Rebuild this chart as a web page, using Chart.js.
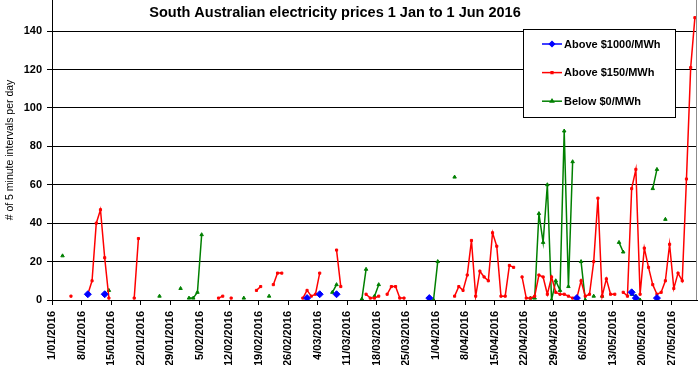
<!DOCTYPE html>
<html>
<head>
<meta charset="utf-8">
<script src="https://cdn.jsdelivr.net/npm/chart.js@4.4.0/dist/chart.umd.min.js"></script>
<style>
html,body{margin:0;padding:0;background:#fff;}
canvas{display:block;}
</style>
</head>
<body>
<canvas id="c" width="698" height="365" style="width:698px;height:365px"></canvas>
<script>
// Daily values, index 0 = 1 Jan 2016 ... index 152 = 1 Jun 2016 (null = no value)
const N = null;
const tickLabels = ['1/01/2016','8/01/2016','15/01/2016','22/01/2016','29/01/2016','5/02/2016','12/02/2016','19/02/2016','26/02/2016','4/03/2016','11/03/2016','18/03/2016','25/03/2016','1/04/2016','8/04/2016','15/04/2016','22/04/2016','29/04/2016','6/05/2016','13/05/2016','20/05/2016','27/05/2016'];

const above1000 = [
 N,N,N,N,N,N,N,N,3,N,  N,N,3,N,N,N,N,N,N,N,
 N,N,N,N,N,N,N,N,N,N,  N,N,N,N,N,N,N,N,N,N,
 N,N,N,N,N,N,N,N,N,N,  N,N,N,N,N,N,N,N,N,N,
 1,N,N,3,N,N,N,3,N,N,  N,N,N,N,N,N,N,N,N,N,
 N,N,N,N,N,N,N,N,N,1,  N,N,N,N,N,N,N,N,N,N,
 N,N,N,N,N,N,N,N,N,N,  N,N,N,N,N,N,N,N,N,N,
 N,N,N,N,1,N,N,N,N,N,  N,N,N,N,N,N,N,4,1,N,
 N,N,N,1,N,N,N,N,N,N,  N,N,N
];
const above150 = [
 N,N,N,N,2,N,N,N,3,10,  40,47,22,1,N,N,N,N,N,1,
 32,N,N,N,N,N,N,N,N,N,  N,N,N,N,N,N,N,N,N,1,
 2,N,1,N,N,N,N,N,5,7,   N,N,8,14,14,N,N,N,N,1,
 5,2,3,14,N,N,N,26,7,N,  N,N,N,N,3,1,1,2,N,3,
 7,7,1,1,N,N,N,N,N,1,   N,N,N,N,N,2,7,5,13,31,
 2,15,12,10,35,28,2,2,18,17,  N,12,1,1,2,13,12,3,12,4,
 3,3,2,1,1,10,2,3,20,53,  2,11,3,3,N,4,2,58,68,3,
 27,17,8,3,4,10,29,6,14,10,  63,121,147
];
const below0 = [
 N,N,23,N,N,N,N,N,N,N,  N,N,N,5,N,N,N,N,N,N,
 N,N,N,N,N,2,N,N,N,N,   6,N,1,1,4,34,N,N,N,N,
 N,N,N,N,N,1,N,N,N,N,   N,2,N,N,N,N,N,N,N,N,
 N,N,N,N,N,N,4,8,N,N,   N,N,N,0.5,16,N,2,8,N,N,
 N,N,N,N,N,N,N,N,N,N,   0,20,N,N,N,64,N,N,N,N,
 N,N,N,N,N,N,N,N,N,N,   N,N,N,1,1,45,30,60,0,10,
 5,88,7,72,N,20,0,N,2,N,  2,N,N,N,30,25,N,3,2,0,
 N,N,58,68,N,42,N,N,N,N,  N,N,N
];

function toPoints(arr){ return arr.map((v,i)=>({x:i+0.5, y:v})); }

const FONT = 'Liberation Sans, Arial, sans-serif';

const overlayPlugin = {
  id:'overlay',
  afterDraw(chart){
    const ctx = chart.ctx, ca = chart.chartArea;
    ctx.save();
    // right frame line
    ctx.strokeStyle = '#8c8c8c'; ctx.lineWidth = 1;
    ctx.beginPath(); ctx.moveTo(ca.right-0.5, 0); ctx.lineTo(ca.right-0.5, ca.bottom); ctx.stroke();
    // title
    ctx.fillStyle = '#000';
    ctx.font = 'bold 14.5px ' + FONT;
    ctx.textAlign = 'center'; ctx.textBaseline = 'middle';
    ctx.fillText('South Australian electricity prices 1 Jan to 1 Jun 2016', 335, 12.5);
    // legend box
    const bx = 523.5, by = 29.5, bw = 152, bh = 88;
    ctx.fillStyle = '#fff'; ctx.fillRect(bx, by, bw, bh);
    ctx.strokeStyle = '#000'; ctx.lineWidth = 1; ctx.strokeRect(bx, by, bw, bh);
    ctx.font = 'bold 11px ' + FONT;
    ctx.textAlign = 'left'; ctx.textBaseline = 'middle';
    chart.data.datasets.forEach((ds, i) => {
      const y = 44 + i*28.6;
      ctx.strokeStyle = ds.borderColor; ctx.lineWidth = 1.5;
      ctx.beginPath(); ctx.moveTo(542, y); ctx.lineTo(562, y); ctx.stroke();
      ctx.fillStyle = ds.backgroundColor;
      Chart.helpers.drawPoint(ctx, {pointStyle: ds.pointStyle, radius: ds.legendRadius, borderWidth: 1, rotation: 0}, 552, y);
      ctx.fillStyle = '#000';
      ctx.fillText(ds.label, 564, y + 0.5);
    });
    ctx.restore();
  }
};

new Chart(document.getElementById('c'), {
  type: 'line',
  data: {
    datasets: [
      {label:'Above $1000/MWh', data: toPoints(above1000), borderColor:'#0000FF', backgroundColor:'#0000FF',
       pointStyle:'rectRot', pointRadius:3.5, pointBorderWidth:1, borderWidth:1.5, legendRadius:2.5},
      {label:'Above $150/MWh', data: toPoints(above150), borderColor:'#FF0000', backgroundColor:'#FF0000',
       pointStyle:'rect', pointRadius:1.5, pointBorderWidth:1, borderWidth:1.5, legendRadius:1.2},
      {label:'Below $0/MWh', data: toPoints(below0), borderColor:'#008000', backgroundColor:'#008000',
       pointStyle:'triangle', pointRadius:2, pointBorderWidth:1, borderWidth:1.5, legendRadius:1.8}
    ]
  },
  options: {
    responsive:false, animation:false, devicePixelRatio:1,
    layout:{autoPadding:false, padding:{left:0, right:1, top:0, bottom:0}},
    elements:{line:{tension:0}},
    spanGaps:false,
    plugins:{legend:{display:false}, title:{display:false}, tooltip:{enabled:false}},
    scales:{
      x:{
        type:'linear', min:0, max:153,
        afterFit(s){ s.height = 65; s.paddingLeft = 0; s.paddingRight = 0; },
        ticks:{stepSize:7, includeBounds:false, autoSkip:false, minRotation:90, maxRotation:90, padding:6,
               color:'#000', font:{family:FONT, weight:'bold', size:11},
               callback:(v)=> (v % 7 === 0 && tickLabels[v/7] !== undefined) ? tickLabels[v/7] : ''},
        grid:{drawOnChartArea:false, drawTicks:true, tickLength:5, color:'#000', lineWidth:1},
        border:{color:'#000', width:1}
      },
      y:{
        min:0, max:156.2,
        afterFit(s){ s.width = 52; s.paddingTop = 0; s.paddingBottom = 0; },
        ticks:{stepSize:20, includeBounds:false, padding:5, color:'#000', font:{family:FONT, weight:'bold', size:11}},
        grid:{color:'#000', lineWidth:1, tickLength:5, drawTicks:true},
        border:{color:'#000', width:1},
        title:{display:true, text:'# of 5 minute intervals per day', color:'#000',
               font:{family:FONT, size:10.5, weight:'normal'}, padding:{top:4, bottom:0}}
      }
    }
  },
  plugins:[overlayPlugin]
});
</script>
</body>
</html>
